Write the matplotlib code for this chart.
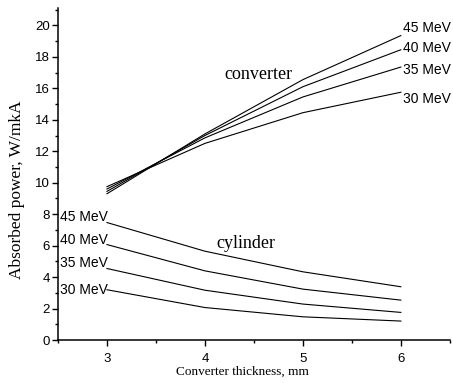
import matplotlib.pyplot as plt
from matplotlib.ticker import MultipleLocator

# converter thickness, mm
thickness = [3, 4, 5, 6]
energies = ["30 MeV", "35 MeV", "40 MeV", "45 MeV"]

# absorbed power in the converter, W/mkA
conv_30 = [9.75, 12.5, 14.45, 15.75]
conv_35 = [9.6, 12.85, 15.45, 17.35]
conv_40 = [9.45, 13.0, 16.1, 18.45]
conv_45 = [9.3, 13.1, 16.55, 19.35]

# absorbed power in the cylinder, W/mkA
cyl_30 = [3.2, 2.07, 1.48, 1.21]
cyl_35 = [4.55, 3.17, 2.29, 1.76]
cyl_40 = [6.07, 4.4, 3.24, 2.54]
cyl_45 = [7.47, 5.65, 4.34, 3.39]

converter = [conv_30, conv_35, conv_40, conv_45]
cylinder = [cyl_30, cyl_35, cyl_40, cyl_45]

# label anchors for the energy labels
conv_lab_y = [15.35, 17.15, 18.55, 19.85]
cyl_lab_y = [3.2, 4.9, 6.35, 7.85]

fig = plt.figure(figsize=(4.53, 3.83), dpi=100)
ax = fig.add_axes([0.128, 0.112, 0.865, 0.867])

for i in range(4):
    ax.plot(thickness, converter[i], color="black", lw=0.8)
    ax.plot(thickness, cylinder[i], color="black", lw=0.8)
    ax.text(6.02, conv_lab_y[i], energies[i], fontsize=10,
            family="Liberation Sans", ha="left", va="center")
    ax.text(2.52, cyl_lab_y[i], energies[i], fontsize=10,
            family="Liberation Sans", ha="left", va="center")

ax.text(4.55, 16.9, "converter", fontsize=13, family="Liberation Serif",
        ha="center", va="center")
ax.text(4.42, 6.15, "cylinder", fontsize=13, family="Liberation Serif",
        ha="center", va="center")

ax.set_xlim(2.5, 6.5)
ax.set_ylim(0, 21.1)
ax.xaxis.set_major_locator(MultipleLocator(1))
ax.xaxis.set_minor_locator(MultipleLocator(0.5))
ax.yaxis.set_major_locator(MultipleLocator(2))
ax.yaxis.set_minor_locator(MultipleLocator(1))

for s in ["top", "right"]:
    ax.spines[s].set_visible(False)
for s in ["left", "bottom"]:
    ax.spines[s].set_linewidth(1.1)

ax.tick_params(which="major", direction="out", length=4, width=1,
               labelsize=9.5, pad=2)
ax.tick_params(axis="x", which="major", pad=5)
ax.tick_params(which="minor", direction="out", length=2.5, width=1)
for lab in ax.get_xticklabels() + ax.get_yticklabels():
    lab.set_family("Liberation Sans")

ax.set_xlabel("Converter thickness, mm", fontsize=9.5, family="Liberation Serif")
ax.set_ylabel("Absorbed power, W/mkA", fontsize=12.5, family="Liberation Serif")
ax.xaxis.set_label_coords(0.47, -0.078)
ax.yaxis.set_label_coords(-0.084, 0.452)

fig.savefig("out.png", dpi=100)
